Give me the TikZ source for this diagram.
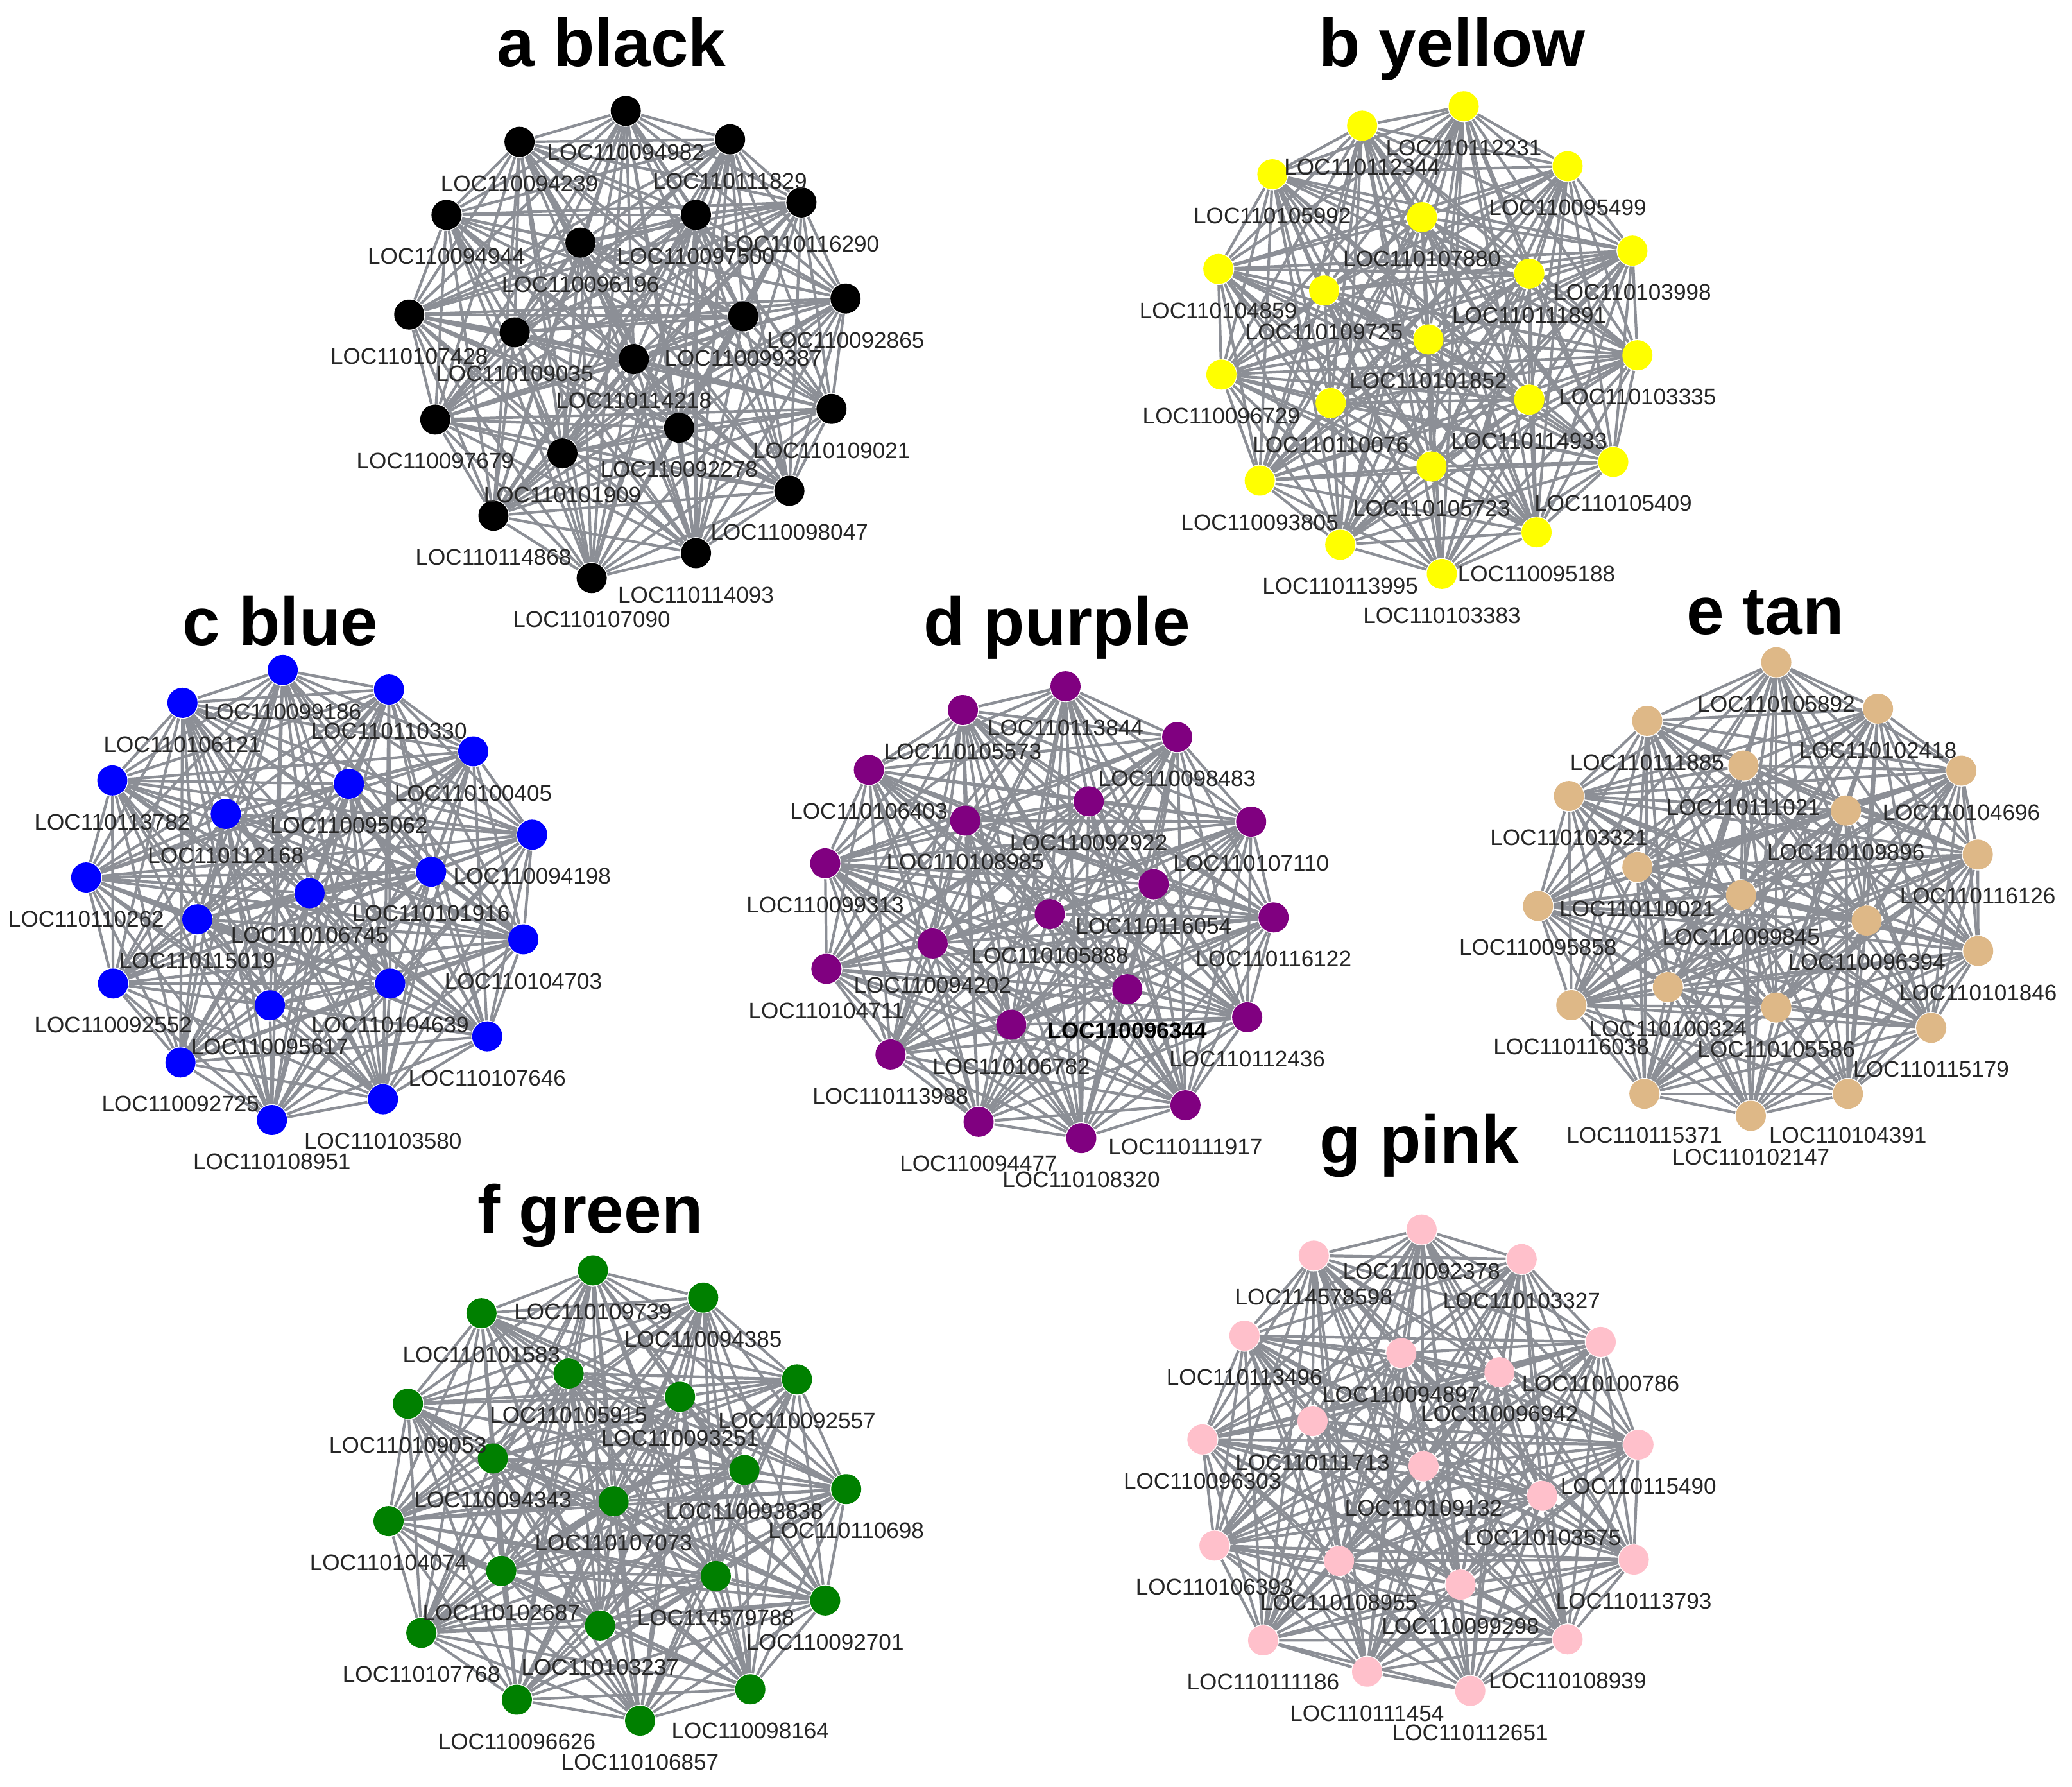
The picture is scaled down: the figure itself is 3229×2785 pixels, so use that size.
\documentclass[tikz,border=0pt]{standalone}
\usepackage{fontspec}
\setmainfont{Liberation Sans}
\pgfdeclarelayer{bg}
\pgfdeclarelayer{fg}
\pgfsetlayers{bg,main,fg}
\definecolor{edgegray}{RGB}{140,143,150}
\definecolor{ntan}{RGB}{222,184,135}
\definecolor{npink}{RGB}{255,192,203}
\definecolor{npurple}{RGB}{128,0,128}
\definecolor{ngreen}{RGB}{0,128,0}
\definecolor{nblue}{RGB}{0,0,255}
\definecolor{nyellow}{RGB}{255,255,0}
\tikzset{
  dot/.style={circle, minimum size=0.235cm, inner sep=0pt, draw=none, fill=#1},
  lbl/.style={font=\fontsize{5}{6}\selectfont, text=black!85, inner sep=0pt},
  ttl/.style={font=\fontsize{15}{18}\selectfont\bfseries, anchor=base, inner sep=0pt},
  edgeline/.style={draw=edgegray, line width=0.6pt},
}
\newcommand\mknet[3]{%
  \foreach [count=\k] \px/\py/\t in {#3} {
    \node[dot=#2] (#1\k) at (\px,\py) {};
    \begin{pgfonlayer}{fg}
      \node[lbl] (#1l\k) at ([yshift=-0.325cm]#1\k.center) {\t};
    \end{pgfonlayer}
  }
  \begin{pgfonlayer}{bg}
    \foreach \i in {1,...,19} {
      \pgfmathtruncatemacro\nx{\i+1}
      \foreach \j in {\nx,...,20} \draw[edgeline] (#1\i) -- (#1\j);
    }
  \end{pgfonlayer}
}
\begin{document}
\begin{tikzpicture}[x=0.005cm, y=-0.005cm]
\begin{pgfonlayer}{bg}
\fill[white] (0,0) rectangle (3229,2785);
\end{pgfonlayer}
\useasboundingbox (0,0) rectangle (3229,2785);

% titles
\node[ttl] (ta) at (953,103) {a black};
\node[ttl] (tb) at (2263,103) {b yellow};
\node[ttl] (tc) at (437,1005) {c blue};
\node[ttl] (td) at (1647,1005) {d purple};
\node[ttl] (te) at (2751,988) {e tan};
\node[ttl] (tf) at (920,1921) {f green};
\node[ttl] (tg) at (2212,1812) {g pink};

% a black
\begin{scope}[shift={(494,124)}, x=0.003125cm, y=-0.0027742cm]
\mknet{a}{black}{770/88/LOC110094982, 505/175/LOC110094239, 1030/168/LOC110111829,
 323/380/LOC110094944, 945/380/LOC110097500, 1208/345/LOC110116290, 657/458/LOC110096196,
 230/660/LOC110107428, 493/710/LOC110109035, 1063/665/LOC110099387, 1318/615/LOC110092865,
 790/785/LOC110114218, 295/955/LOC110097679, 903/978/LOC110092278, 612/1050/LOC110101909,
 1283/925/LOC110109021, 440/1225/LOC110114868, 1178/1155/LOC110098047, 945/1330/LOC110114093,
 685/1400/LOC110107090}
\end{scope}

% b yellow
\begin{scope}[shift={(1760,130)}, x=0.0029974cm, y=-0.0027423cm]
\mknet{b}{nyellow}{872/65/LOC110112231, 607/120/LOC110112344, 1143/235/LOC110095499,
 373/258/LOC110105992, 763/380/LOC110107880, 1312/475/LOC110103998, 232/527/LOC110104859,
 508/588/LOC110109725, 1043/540/LOC110111891, 780/727/LOC110101852, 1325/772/LOC110103335,
 240/827/LOC110096729, 525/908/LOC110110076, 1043/898/LOC110114933, 788/1088/LOC110105723,
 1262/1075/LOC110105409, 340/1128/LOC110093805, 1062/1275/LOC110095188, 550/1310/LOC110113995,
 815/1393/LOC110103383}
\end{scope}

% c blue
\begin{scope}[shift={(0,1000)}, x=0.003125cm, y=-0.0026148cm]
\mknet{c}{nblue}{705/85/LOC110099186, 455/183/LOC110106121, 970/143/LOC110110330,
 1180/328/LOC110100405, 280/415/LOC110113782, 870/425/LOC110095062, 563/515/LOC110112168,
 1327/577/LOC110094198, 215/705/LOC110110262, 1075/688/LOC110101916, 772/752/LOC110106745,
 492/830/LOC110115019, 1305/890/LOC110104703, 282/1022/LOC110092552, 973/1022/LOC110104639,
 673/1087/LOC110095617, 1215/1180/LOC110107646, 450/1258/LOC110092725, 955/1368/LOC110103580,
 678/1430/LOC110108951}
\end{scope}

% d purple
\begin{scope}[shift={(1150,1030)}, x=0.0030612cm, y=-0.0026467cm]
\mknet{d}{npurple}{833/75/LOC110113844, 572/145/LOC110105573, 1117/225/LOC110098483,
 333/322/LOC110106403, 892/415/LOC110092922, 578/472/LOC110108985, 1305/475/LOC110107110,
 222/598/LOC110099313, 1057/660/LOC110116054, 793/748/LOC110105888, 1362/758/LOC110116122,
 495/835/LOC110094202, 225/910/LOC110104711, 990/970/{\textcolor{black}{\textbf{LOC110096344}}}, 1295/1053/LOC110112436,
 695/1075/LOC110106782, 388/1163/LOC110113988, 1138/1313/LOC110111917, 612/1362/LOC110094477,
 873/1410/LOC110108320}
\end{scope}

% e tan
\begin{scope}[shift={(2270,990)}, x=0.0030580cm, y=-0.0026467cm]
\mknet{e}{ntan}{817/80/LOC110105892, 487/253/LOC110111885, 1077/217/LOC110102418,
 733/385/LOC110111021, 1290/400/LOC110104696, 287/475/LOC110103321, 995/518/LOC110109896,
 462/685/LOC110110021, 1332/648/LOC110116126, 727/768/LOC110099845, 208/800/LOC110095858,
 1048/843/LOC110096394, 1333/933/LOC110101846, 540/1040/LOC110100324, 293/1093/LOC110116038,
 817/1100/LOC110105586, 1213/1160/LOC110115179, 480/1355/LOC110115371, 1000/1355/LOC110104391,
 752/1420/LOC110102147}
\end{scope}

% f green
\begin{scope}[shift={(460,1930)}, x=0.0032844cm, y=-0.0027105cm]
\mknet{f}{ngreen}{708/92/LOC110109739, 443/215/LOC110101583, 970/170/LOC110094385,
 650/388/LOC110105915, 1193/405/LOC110092557, 915/455/LOC110093251, 268/475/LOC110109053,
 470/632/LOC110094343, 1068/665/LOC110093838, 1310/720/LOC110110698, 757/755/LOC110107073,
 222/812/LOC110104074, 490/955/LOC110102687, 1000/970/LOC114579788, 1260/1040/LOC110092701,
 725/1112/LOC110103237, 300/1133/LOC110107768, 527/1325/LOC110096626, 1082/1295/LOC110098164,
 820/1385/LOC110106857}
\end{scope}

% g pink
\begin{scope}[shift={(1730,1870)}, x=0.0030293cm, y=-0.0027105cm]
\mknet{g}{npink}{800/85/LOC110092378, 523/160/LOC114578598, 1057/170/LOC110103327,
 345/390/LOC110113496, 1260/408/LOC110100786, 748/440/LOC110094897, 1000/495/LOC110096942,
 520/635/LOC110111713, 237/688/LOC110096303, 1357/703/LOC110115490, 805/765/LOC110109132,
 1110/850/LOC110103575, 268/993/LOC110106393, 588/1037/LOC110108955, 1345/1033/LOC110113793,
 900/1105/LOC110099298, 393/1265/LOC110111186, 1175/1262/LOC110108939, 660/1355/LOC110111454,
 925/1410/LOC110112651}
\end{scope}
\end{tikzpicture}
\end{document}
